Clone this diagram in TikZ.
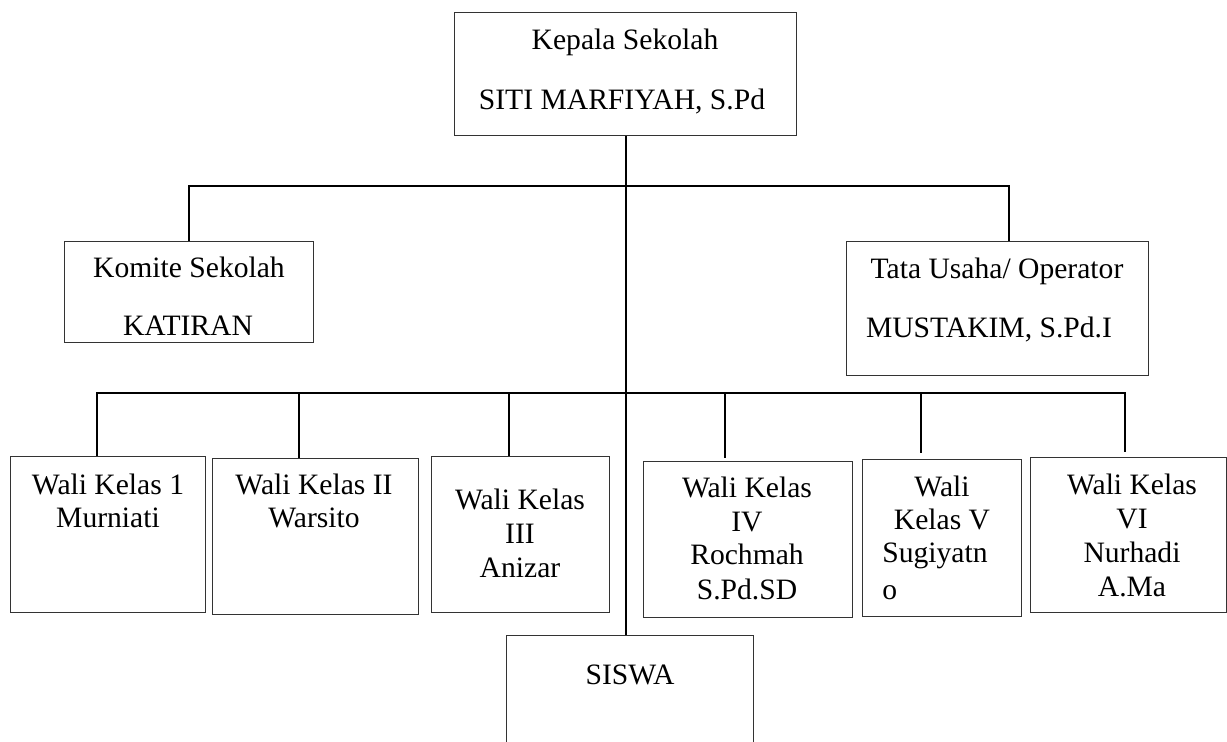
\documentclass[tikz,border=0pt]{standalone}
\usepackage{fontspec}
\setmainfont{Liberation Serif}
\begin{document}
\begin{tikzpicture}[x=0.5pt,y=-0.5pt,
  box/.style={draw=black!80, line width=0.6pt, rectangle, inner sep=0pt, anchor=north west},
  conn/.style={line width=1pt, black},
  lbl/.style={inner sep=0pt, anchor=base, font=\fontsize{14.8pt}{17pt}\selectfont},
  lblw/.style={lbl, anchor=base west}]
\clip (0,0) rectangle (1227,742);
\fill[white] (0,0) rectangle (1227,742);
% boxes
\node[box, minimum width=171pt, minimum height=61.5pt] (kepala) at (454,12) {};
\node[box, minimum width=124.5pt, minimum height=50.5pt] (komite) at (64,241) {};
\node[box, minimum width=151pt, minimum height=67pt] (tu) at (846,241) {};
\node[box, minimum width=97.5pt, minimum height=78pt] (w1) at (10,456) {};
\node[box, minimum width=103pt, minimum height=78pt] (w2) at (212,458) {};
\node[box, minimum width=89pt, minimum height=78pt] (w3) at (431,456) {};
\node[box, minimum width=104.5pt, minimum height=78pt] (w4) at (643,461) {};
\node[box, minimum width=79.5pt, minimum height=78.5pt] (w5) at (862,459) {};
\node[box, minimum width=98pt, minimum height=77.5pt] (w6) at (1030,457) {};
\node[box, minimum width=123.5pt, minimum height=82.5pt] (siswa) at (506,635) {};
% texts
\node[lbl] (k1) at (625,50) {Kepala Sekolah};
\node[lbl] (k2) at (622,110) {SITI MARFIYAH, S.Pd};
\node[lbl] (c1) at (189,278) {Komite Sekolah};
\node[lbl] (c2) at (188,336) {KATIRAN};
\node[lbl] (u1) at (997,279) {Tata Usaha/ Operator};
\node[lbl] (u2) at (989,338) {MUSTAKIM, S.Pd.I};
\node[lbl] (a1) at (108,495) {Wali Kelas 1};
\node[lbl] (a2) at (108,528) {Murniati};
\node[lbl] (b1t) at (314,495) {Wali Kelas II};
\node[lbl] (b2t) at (314,528) {Warsito};
\node[lbl] (c3a) at (520,510) {Wali Kelas};
\node[lbl] (c3b) at (520,544) {III};
\node[lbl] (c3c) at (520,578) {Anizar};
\node[lbl] (d4a) at (747,498) {Wali Kelas};
\node[lbl] (d4b) at (747,532) {IV};
\node[lbl] (d4c) at (747,565) {Rochmah};
\node[lbl] (d4d) at (747,600) {S.Pd.SD};
\node[lbl] (e5a) at (942,497) {Wali};
\node[lbl] (e5b) at (942,530) {Kelas V};
\node[lblw] (e5c) at (882,563) {Sugiyatn};
\node[lblw] (e5d) at (882,600) {o};
\node[lbl] (f6a) at (1132,495) {Wali Kelas};
\node[lbl] (f6b) at (1132,529) {VI};
\node[lbl] (f6c) at (1132,563) {Nurhadi};
\node[lbl] (f6d) at (1132,597) {A.Ma};
\node[lbl] (s1) at (630,685) {SISWA};
% bus coordinates
\coordinate (bus1) at (626,186);
\coordinate (tux) at (1009,186);
\coordinate (bus2) at (626,393);
\coordinate (x1) at (97,393);
\coordinate (x2) at (299,393);
\coordinate (x3) at (509,393);
\coordinate (x4) at (725,393);
\coordinate (x5) at (921,393);
\coordinate (x6) at (1125,393);
% connectors
\draw[conn] (kepala.south) -- (kepala.south |- siswa.north);
\draw[conn] (komite.north) -- (komite.north |- bus1) -- (tux) -- (tux |- tu.north);
\draw[conn] (x1 |- w1.north) -- (x1) -- (x6) -- ([yshift=2.5pt]x6 |- w6.north);
\draw[conn] (x2) -- (x2 |- w2.north);
\draw[conn] (x3) -- (x3 |- w3.north);
\draw[conn] (x4) -- ([yshift=1.5pt]x4 |- w4.north);
\draw[conn] (x5) -- ([yshift=3pt]x5 |- w5.north);
\end{tikzpicture}
\end{document}
